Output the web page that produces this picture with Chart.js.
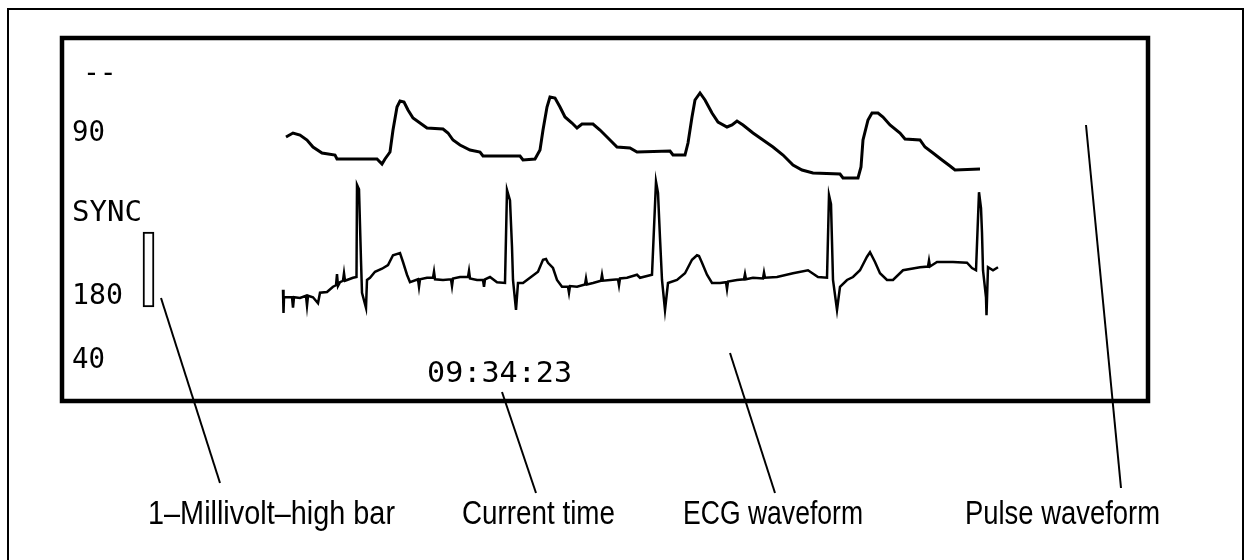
<!DOCTYPE html>
<html>
<head>
<meta charset="utf-8">
<script src="https://cdn.jsdelivr.net/npm/chart.js@4.4.1/dist/chart.umd.min.js"></script>
<style>
  html, body { margin: 0; padding: 0; background: #ffffff; }
  canvas { display: block; }
</style>
</head>
<body>
<canvas id="c" width="1248" height="560"></canvas>
<script>
// ---- Data (time in ms, pulse in mmHg-like units, ECG in mV) ----
const pulseTime = [12,40,68,96,120,156,208,216,376,396,408,428,440,456,468,484,500,520,548,576,640,660,680,708,748,788,800,948,960,1008,1028,1040,1056,1068,1088,1108,1128,1156,1176,1196,1240,1268,1300,1336,1388,1416,1548,1560,1608,1620,1636,1648,1668,1688,1716,1740,1776,1796,1816,1840,1880,1920,1960,2000,2040,2076,2120,2228,2240,2300,2312,2320,2340,2356,2380,2400,2428,2468,2488,2548,2568,2600,2636,2668,2688,2788];
const pulseValue = [96,100,98,93,86,80,78,74,74,69,74,81,103,126,132,131,123,115,110,105,104,100,93,88,83,81,77,77,73,74,83,103,126,136,135,126,116,110,105,109,109,103,95,86,85,81,82,78,78,90,116,133,140,133,120,111,106,108,112,108,100,93,86,78,68,63,60,59,55,55,66,93,113,120,120,116,108,100,94,93,86,80,73,67,63,64];

const ecgTime = [0,2,4,16,36,40,44,68,92,96,100,120,140,148,176,200,212,216,220,228,240,244,248,256,280,294,296,304,312,316,332,336,348,368,396,420,440,468,480,496,508,540,544,548,576,600,604,608,640,672,676,680,708,740,744,748,776,800,804,808,828,856,888,896,908,916,920,932,940,960,988,1020,1040,1052,1060,1080,1096,1116,1140,1144,1148,1176,1208,1212,1216,1240,1272,1276,1280,1308,1340,1344,1348,1376,1416,1428,1476,1492,1500,1508,1516,1528,1540,1576,1608,1636,1656,1664,1676,1696,1716,1748,1772,1776,1780,1816,1844,1848,1852,1880,1920,1924,1928,1976,2040,2100,2140,2176,2184,2192,2196,2200,2216,2228,2256,2280,2308,2336,2348,2368,2388,2416,2440,2480,2548,2580,2584,2588,2616,2680,2736,2756,2772,2784,2792,2796,2800,2812,2814,2820,2840,2860];
const ecgValue = [-0.09,-0.40,-0.19,-0.19,-0.19,-0.33,-0.19,-0.20,-0.17,-0.30,-0.17,-0.19,-0.27,-0.13,-0.12,-0.05,-0.03,0.12,-0.04,0.01,0.03,0.13,0.03,0.04,0.07,0.08,1.31,1.25,0.30,-0.13,-0.33,0.04,0.07,0.15,0.19,0.24,0.37,0.40,0.28,0.11,0.01,0.05,-0.05,0.05,0.07,0.07,0.15,0.05,0.04,0.05,-0.04,0.06,0.08,0.08,0.16,0.06,0.04,0.04,-0.05,0.05,0.08,0.01,0.00,1.24,1.10,0.48,0.04,-0.36,0.00,0.00,0.07,0.15,0.31,0.32,0.27,0.20,0.04,-0.05,-0.05,-0.13,-0.04,-0.05,-0.02,0.06,-0.02,0.00,0.03,0.11,0.03,0.04,0.05,-0.03,0.06,0.07,0.11,0.07,0.11,1.35,1.20,0.60,0.04,-0.36,0.00,0.04,0.13,0.31,0.37,0.36,0.27,0.11,0.00,0.00,0.01,-0.08,0.02,0.04,0.05,0.12,0.05,0.07,0.06,0.14,0.07,0.08,0.13,0.17,0.08,0.07,1.17,1.05,0.55,0.04,-0.36,-0.05,0.04,0.08,0.17,0.35,0.41,0.28,0.13,0.04,0.04,0.17,0.21,0.22,0.30,0.22,0.28,0.28,0.27,0.20,0.17,1.21,1.00,0.67,0.17,-0.19,-0.43,0.21,0.17,0.21];

// 1 mV calibration bar (mV range)
const calBarRange = [-0.32, 0.68];
const calBarTime = -538;

// Monitor readouts
const readouts = ["--", "90", "SYNC", "180", "40"];
const clockText = "09:34:23";
const calloutLabels = ["1\u2013Millivolt\u2013high bar", "Current time", "ECG waveform", "Pulse waveform"];

// ---- Build datasets ----
const pulseData = pulseTime.map((t, i) => ({ x: t, y: pulseValue[i] }));
const ecgData = ecgTime.map((t, i) => ({ x: t, y: ecgValue[i] }));

const monitorPlugin = {
  id: 'monitor',
  beforeDraw(chart) {
    const ctx = chart.ctx;
    ctx.save();
    ctx.fillStyle = '#ffffff';
    ctx.fillRect(0, 0, chart.width, chart.height);
    ctx.restore();
  },
  afterDraw(chart) {
    const ctx = chart.ctx;
    const ca = chart.chartArea;
    ctx.save();
    ctx.strokeStyle = '#000';
    ctx.fillStyle = '#000';

    // outer frame (left, top, right)
    ctx.lineWidth = 2;
    ctx.beginPath();
    ctx.moveTo(8, 560); ctx.lineTo(8, 9); ctx.lineTo(1243, 9); ctx.lineTo(1243, 560);
    ctx.stroke();

    // inner monitor box
    ctx.lineWidth = 4.5;
    ctx.strokeRect(ca.left - 2, ca.top - 2, ca.width + 4, ca.height + 4);

    // monitor readouts
    ctx.font = '28px "DejaVu Sans Mono", monospace';
    ctx.textAlign = 'left';
    ctx.textBaseline = 'alphabetic';
    const rx = [83, 72, 72, 72, 72];
    const ry = [82, 141, 221, 304, 368];
    const rw = [null, 33, 70, 51, 33];
    readouts.forEach((t, i) => {
      if (!rw[i]) { ctx.fillText(t, rx[i], ry[i]); return; }
      const m = ctx.measureText(t).width;
      ctx.save(); ctx.translate(rx[i], ry[i]); ctx.scale(rw[i] / m, 1); ctx.fillText(t, 0, 0); ctx.restore();
    });
    ctx.font = '29px "DejaVu Sans Mono", monospace';
    const cm = ctx.measureText(clockText).width;
    ctx.save(); ctx.translate(427, 382); ctx.scale(145 / cm, 1); ctx.fillText(clockText, 0, 0); ctx.restore();

    // leader lines
    ctx.lineWidth = 2;
    const leaders = [[161, 298, 220, 483], [502, 392, 536, 493], [730, 353, 775, 493], [1086, 125, 1121, 488]];
    leaders.forEach(l => {
      ctx.beginPath(); ctx.moveTo(l[0], l[1]); ctx.lineTo(l[2], l[3]); ctx.stroke();
    });

    // callout labels, condensed to the reference widths
    const lx = [148, 462, 683, 965];
    const lw = [247, 153, 180, 195];
    ctx.font = '33px "Liberation Sans Narrow", "Liberation Sans", Arial, sans-serif';
    calloutLabels.forEach((t, i) => {
      const m = ctx.measureText(t).width;
      ctx.save();
      ctx.translate(lx[i], 524);
      ctx.scale(lw[i] / m, 1);
      ctx.fillText(t, 0, 0);
      ctx.restore();
    });
    ctx.restore();
  }
};

new Chart(document.getElementById('c'), {
  type: 'line',
  data: {
    datasets: [
      {
        label: 'Pulse waveform',
        data: pulseData,
        yAxisID: 'pulse',
        borderColor: '#000',
        borderWidth: 3,
        pointRadius: 0,
        tension: 0,
        fill: false
      },
      {
        label: 'ECG waveform',
        data: ecgData,
        yAxisID: 'ecg',
        borderColor: '#000',
        borderWidth: 2.5,
        pointRadius: 0,
        tension: 0,
        fill: false
      },
      {
        type: 'bar',
        label: '1 mV bar',
        data: [{ x: calBarTime, y: calBarRange }],
        yAxisID: 'ecg',
        backgroundColor: '#ffffff',
        borderColor: '#000',
        borderWidth: 2,
        borderSkipped: false,
        barThickness: 11,
        grouped: false
      }
    ]
  },
  options: {
    responsive: false,
    animation: false,
    devicePixelRatio: 1,
    layout: { padding: { left: 64, top: 40, right: 102, bottom: 161 } },
    plugins: { legend: { display: false }, tooltip: { enabled: false } },
    scales: {
      x: { type: 'linear', min: -876, max: 3452, display: false, offset: false },
      pulse: { type: 'linear', min: -166, max: 193, display: false },
      ecg: { type: 'linear', min: -1.5467, max: 3.24, display: false }
    }
  },
  plugins: [monitorPlugin]
});
</script>
</body>
</html>
